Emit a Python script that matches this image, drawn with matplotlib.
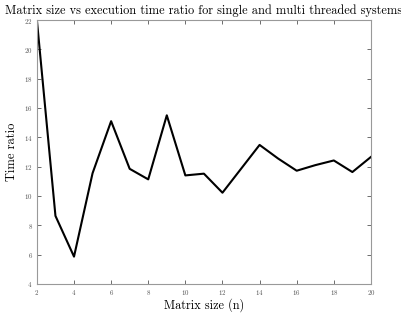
import matplotlib
matplotlib.use("Agg")
import matplotlib.pyplot as plt

n = [2, 3, 4, 5, 6, 7, 8, 9, 10, 11, 12, 13, 14, 15, 16, 17, 18, 19, 20]
ratio = [22.0, 8.64, 5.86, 11.55, 15.1, 11.85, 11.13, 15.5, 11.4, 11.52, 10.22,
         11.85, 13.48, 12.55, 11.72, 12.1, 12.42, 11.63, 12.66]
xticks = [2, 4, 6, 8, 10, 12, 14, 16, 18, 20]
yticks = [4, 6, 8, 10, 12, 14, 16, 18, 20, 22]

plt.rcParams['font.family'] = 'serif'
plt.rcParams['font.serif'] = ['cmr10']
plt.rcParams['mathtext.fontset'] = 'cm'
plt.rcParams['axes.formatter.use_mathtext'] = True

fig = plt.figure(figsize=(4.01, 3.13), dpi=100)
ax = fig.add_axes([0.092, 0.093, 0.833, 0.843])
ax.plot(n, ratio, color='black', linewidth=1.5)
ax.set_xlim(2, 20)
ax.set_ylim(4, 22)
ax.set_xticks(xticks)
ax.set_yticks(yticks)
ax.tick_params(direction='in', length=3, width=0.6, labelsize=5, colors='#555555',
               top=True, right=True, pad=3)
for s in ax.spines.values():
    s.set_color('#999999')
    s.set_linewidth(0.8)
ax.set_xlabel('Matrix size (n)', fontsize=8.8, labelpad=1)
ax.set_ylabel('Time ratio', fontsize=9, labelpad=4)
ax.set_title('Matrix size vs execution time ratio for single and multi threaded systems',
             fontsize=8.9, pad=4)
fig.savefig('out.png', dpi=100)
